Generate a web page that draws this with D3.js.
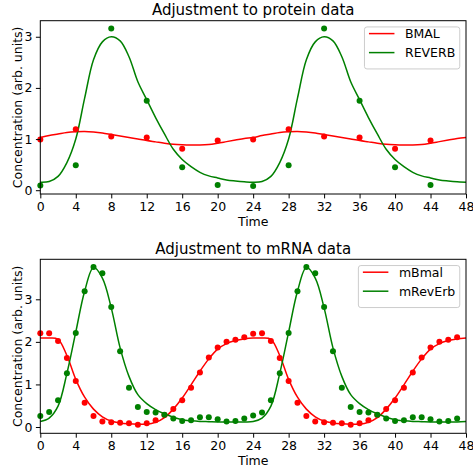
<!DOCTYPE html>
<html>
<head>
<meta charset="utf-8">
<script src="https://cdn.jsdelivr.net/npm/d3@7"></script>
<style>
  html, body { margin: 0; padding: 0; background: #fff; }
  svg { display: block; font-family: "DejaVu Sans", sans-serif; }
</style>
</head>
<body>
<div id="container"></div>
<script>
// protein data (every 4 h)
const proteinTimes = [0, 4, 8, 12, 16, 20, 24, 28, 32, 36, 40, 44];
const bmalData = [0.99, 1.19, 1.05, 1.03, 0.81, 0.97, 0.99, 1.19, 1.05, 1.03, 0.81, 0.97];
const reverbData = [0.09, 0.49, 3.16, 1.75, 0.45, 0.10, 0.08, 0.49, 3.16, 1.75, 0.45, 0.10];

// mRNA data (hourly)
const mrnaTimes = d3.range(0, 48);
const mBmalData = [2.20, 2.20, 2.02, 1.62, 1.08, 0.57, 0.26, 0.13, 0.11, 0.10, 0.09, 0.055,
  0.09, 0.16, 0.28, 0.42, 0.63, 0.92, 1.28, 1.63, 1.87, 2.00, 2.05, 2.11,
  2.19, 2.20, 2.02, 1.62, 1.08, 0.57, 0.26, 0.13, 0.11, 0.10, 0.09, 0.055,
  0.09, 0.16, 0.28, 0.42, 0.63, 0.92, 1.28, 1.63, 1.87, 2.00, 2.05, 2.11];
const mRevErbData = [0.26, 0.35, 0.63, 1.26, 2.21, 3.19, 3.76, 3.61, 2.82, 1.78, 0.92, 0.47,
  0.35, 0.34, 0.29, 0.20, 0.14, 0.16, 0.23, 0.23, 0.18, 0.13, 0.14, 0.20,
  0.27, 0.34, 0.63, 1.26, 2.21, 3.19, 3.76, 3.61, 2.82, 1.78, 0.92, 0.47,
  0.35, 0.34, 0.29, 0.20, 0.14, 0.16, 0.23, 0.23, 0.18, 0.13, 0.14, 0.20];

// fitted model curves (hourly, 0..48)
const curveTimes = d3.range(0, 49);
const bmalFit = [1.03, 1.07, 1.10, 1.13, 1.145, 1.15, 1.14, 1.12, 1.09, 1.06, 1.03, 1.00,
  0.97, 0.945, 0.92, 0.90, 0.89, 0.885, 0.885, 0.895, 0.92, 0.95, 0.98, 1.01,
  1.03, 1.07, 1.10, 1.13, 1.145, 1.15, 1.14, 1.12, 1.09, 1.06, 1.03, 1.00,
  0.97, 0.945, 0.92, 0.90, 0.89, 0.885, 0.885, 0.895, 0.92, 0.95, 0.98, 1.01, 1.03];
const reverbFit = [0.156, 0.17, 0.27, 0.54, 1.00, 1.80, 2.55, 2.90, 3.00, 2.92, 2.61, 2.12,
  1.77, 1.42, 1.10, 0.80, 0.60, 0.46, 0.35, 0.28, 0.24, 0.20, 0.18, 0.165,
  0.156, 0.17, 0.27, 0.54, 1.00, 1.80, 2.55, 2.90, 3.00, 2.92, 2.61, 2.12,
  1.77, 1.42, 1.10, 0.80, 0.60, 0.46, 0.35, 0.28, 0.24, 0.20, 0.18, 0.165, 0.156];
const mBmalFit = [2.09, 2.09, 2.06, 1.68, 1.12, 0.70, 0.42, 0.24, 0.14, 0.095, 0.075, 0.065,
  0.065, 0.11, 0.22, 0.42, 0.68, 0.99, 1.31, 1.60, 1.83, 1.96, 2.03, 2.07,
  2.09, 2.09, 2.06, 1.68, 1.12, 0.70, 0.42, 0.24, 0.14, 0.095, 0.075, 0.065,
  0.065, 0.11, 0.22, 0.42, 0.68, 0.99, 1.31, 1.60, 1.83, 1.96, 2.03, 2.07, 2.09];
const mRevErbFit = [0.13, 0.21, 0.49, 1.26, 2.23, 3.19, 3.75, 3.50, 2.80, 1.86, 1.19, 0.76,
  0.55, 0.41, 0.31, 0.23, 0.17, 0.145, 0.13, 0.125, 0.12, 0.12, 0.12, 0.12,
  0.13, 0.21, 0.49, 1.26, 2.23, 3.19, 3.75, 3.50, 2.80, 1.86, 1.19, 0.76,
  0.55, 0.41, 0.31, 0.23, 0.17, 0.145, 0.13, 0.125, 0.12, 0.12, 0.12, 0.12, 0.13];

const xTicks = d3.range(0, 49, 4);
const yTicks = [0, 1, 2, 3];

const width = 473;
const height = 469;
const fs = 12.5;

const svg = d3.select('#container')
  .append('svg')
  .attr('width', width)
  .attr('height', height);

function panel(opts) {
  const x = d3.scaleLinear().domain([0, 48]).range([40.3, 466]);
  const y = d3.scaleLinear().domain(opts.yDomain).range([opts.bottom, opts.top]);
  const g = svg.append('g');

  const line = d3.line()
    .x((d, i) => x(curveTimes[i]))
    .y(d => y(d))
    .curve(d3.curveCatmullRom.alpha(0.5));

  const plot = g.append('g');
  opts.series.forEach(s => {
    plot.append('path')
      .attr('d', line(s.fit))
      .attr('fill', 'none')
      .attr('stroke', s.color)
      .attr('stroke-width', 1.5);
  });
  opts.series.forEach(s => {
    plot.selectAll(null)
      .data(s.data)
      .enter()
      .append('circle')
      .attr('cx', (d, i) => x(opts.times[i]))
      .attr('cy', d => y(d))
      .attr('r', 3)
      .attr('fill', s.color);
  });

  // axes
  const xAxis = g.append('g')
    .attr('transform', `translate(0,${opts.bottom})`)
    .call(d3.axisBottom(x).tickValues(xTicks).tickFormat(d3.format('d')).tickSize(4.4).tickPadding(3.5));
  const yAxis = g.append('g')
    .attr('transform', 'translate(40.3,0)')
    .call(d3.axisLeft(y).tickValues(yTicks).tickFormat(d3.format('d')).tickSize(4.4).tickPadding(3.5));
  [xAxis, yAxis].forEach(a => {
    a.select('.domain').remove();
    a.selectAll('line').attr('stroke', '#000').attr('stroke-width', 1);
    a.selectAll('text')
      .attr('fill', '#000')
      .style('font-size', fs + 'px')
      .style('font-family', '"DejaVu Sans", sans-serif');
  });

  g.append('rect')
    .attr('x', 40.3)
    .attr('y', opts.top)
    .attr('width', 466 - 40.3)
    .attr('height', opts.bottom - opts.top)
    .attr('fill', 'none')
    .attr('stroke', '#000')
    .attr('stroke-width', 1);

  g.append('text')
    .attr('x', 253.2)
    .attr('y', opts.top - 5.7)
    .attr('text-anchor', 'middle')
    .style('font-size', '15px')
    .text(opts.title);

  g.append('text')
    .attr('x', 253.2)
    .attr('y', opts.bottom + 31.5)
    .attr('text-anchor', 'middle')
    .style('font-size', fs + 'px')
    .text('Time');

  g.append('text')
    .attr('transform', `translate(22,${(opts.top + opts.bottom) / 2}) rotate(-90)`)
    .attr('text-anchor', 'middle')
    .style('font-size', fs + 'px')
    .text('Concentration (arb. units)');

  // legend
  const leg = g.append('g');
  const box = leg.append('rect')
    .attr('fill', '#fff')
    .attr('fill-opacity', 0.8)
    .attr('stroke', '#ccc')
    .attr('stroke-width', 1)
    .attr('rx', 2.5);
  let maxW = 0;
  const labels = [];
  opts.series.forEach((s, i) => {
    const t = leg.append('text')
      .attr('y', opts.top + 17.3 + i * 19)
      .style('font-size', fs + 'px')
      .text(s.name);
    labels.push(t);
    maxW = Math.max(maxW, t.node().getComputedTextLength());
  });
  const right = 459.75;
  const bw = 5 + 25 + 10 + maxW + 5;
  const left = right - bw;
  box.attr('x', left).attr('y', opts.top + 6.25).attr('width', bw).attr('height', 42);
  opts.series.forEach((s, i) => {
    const yy = opts.top + 12.9 + i * 19;
    leg.append('line')
      .attr('x1', left + 4.5).attr('x2', left + 30)
      .attr('y1', yy).attr('y2', yy)
      .attr('stroke', s.color)
      .attr('stroke-width', 1.5);
    labels[i].attr('x', left + 40.5);
  });
}

panel({
  title: 'Adjustment to protein data',
  top: 20.7,
  bottom: 194,
  yDomain: [-0.074, 3.314],
  times: proteinTimes,
  series: [
    { name: 'BMAL', color: 'red', data: bmalData, fit: bmalFit },
    { name: 'REVERB', color: 'green', data: reverbData, fit: reverbFit }
  ]
});

panel({
  title: 'Adjustment to mRNA data',
  top: 259.3,
  bottom: 433.3,
  yDomain: [-0.148, 3.94],
  times: mrnaTimes,
  series: [
    { name: 'mBmal', color: 'red', data: mBmalData, fit: mBmalFit },
    { name: 'mRevErb', color: 'green', data: mRevErbData, fit: mRevErbFit }
  ]
});
</script>
</body>
</html>
